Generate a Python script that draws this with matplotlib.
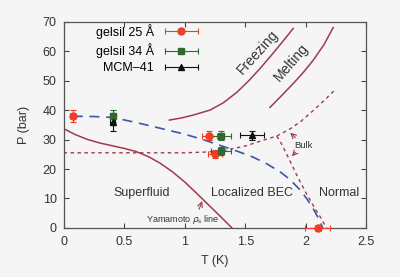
"""
Phase diagram of 4He in porous media: P vs T with gelsil / MCM-41 points.
"""

import matplotlib

matplotlib.use("Agg")
import matplotlib.pyplot as plt
from matplotlib.legend_handler import HandlerLine2D, HandlerTuple
from matplotlib.lines import Line2D

# data points (T in K, P in bar)
gel25_T = [0.076, 1.203, 1.25, 2.097]
gel25_P = [37.9, 31.3, 25.1, 0.0]
gel25_xerr = [0.02, 0.06, 0.06, 0.10]
gel25_yerr = [2.0, 1.5, 1.5, 1.0]

gel34_T = [0.406, 1.30, 1.30]
gel34_P = [37.9, 31.3, 26.1]
gel34_xerr = [0.02, 0.08, 0.08]
gel34_yerr = [2.0, 1.5, 1.5]

mcm_T = [0.406, 1.553]
mcm_P = [35.9, 31.5]
mcm_xerr = [0.02, 0.10]
mcm_yerr = [3.0, 1.5]

# guide line through the onset points (blue dashed)
onset_T = [0.076, 0.25, 0.406, 0.55, 0.70, 0.85, 1.0, 1.15, 1.30, 1.45, 1.566,
           1.68, 1.786, 1.87, 1.95, 2.01, 2.06, 2.10, 2.14]
onset_P = [37.9, 37.8, 37.5, 36.2, 34.8, 33.3, 31.8, 30.0, 27.9, 25.8, 24.0,
           21.7, 19.1, 16.4, 13.0, 9.8, 6.6, 3.6, 0.0]

# Yamamoto rho_s line
yama_T = [0.0, 0.1, 0.2, 0.3, 0.4, 0.5, 0.6, 0.7, 0.8, 0.9, 1.0, 1.1, 1.2, 1.3, 1.39]
yama_P = [33.7, 31.6, 30.0, 28.8, 27.9, 27.0, 25.9, 24.2, 21.9, 19.0, 15.6, 11.7, 7.7, 3.7, 0.0]

# freezing / melting in the pores
freeze_T = [0.873, 0.97, 1.07, 1.21, 1.32, 1.43, 1.53, 1.62, 1.72, 1.81, 1.896]
freeze_P = [36.6, 37.3, 38.3, 40.0, 42.5, 46.0, 50.0, 54.0, 58.8, 63.3, 67.7]
melt_T = [1.704, 1.80, 1.896, 1.98, 2.061, 2.15, 2.226]
melt_P = [40.9, 44.9, 49.0, 52.8, 56.9, 62.2, 68.0]

# bulk melting curve and bulk lambda line (dotted)
bulkmelt_T = [0.0, 1.0, 1.2, 1.35, 1.5, 1.62, 1.76, 1.87, 1.96, 2.06, 2.15, 2.24]
bulkmelt_P = [25.5, 25.5, 25.8, 26.5, 27.8, 29.4, 31.2, 33.6, 36.2, 39.8, 43.2, 46.8]
lambda_T = [1.76, 1.80, 1.86, 1.93, 2.0, 2.07, 2.13, 2.17]
lambda_P = [31.2, 28.5, 23.5, 17.5, 12.0, 7.0, 3.0, 0.0]

RED = "#f23d25"
GREEN = "#2c6a2e"
BLACK = "#111111"
MAROON = "#a13a4e"
BLUE = "#3a56ad"
BG = "#f5f5f5"
TXT = "#333333"


def main():
    plt.rcParams["font.family"] = ["Liberation Sans", "DejaVu Sans"]
    plt.rcParams["font.size"] = 9

    fig = plt.figure(figsize=(4.0, 2.77), dpi=100, facecolor=BG)
    ax = fig.add_axes([0.159, 0.177, 0.757, 0.745], facecolor=BG)

    ax.plot(yama_T, yama_P, color=MAROON, lw=1.1)
    ax.plot(freeze_T, freeze_P, color=MAROON, lw=1.1)
    ax.plot(melt_T, melt_P, color=MAROON, lw=1.1)
    ax.plot(bulkmelt_T, bulkmelt_P, color=MAROON, lw=1.0, dashes=(2.5, 2.5))
    ax.plot(lambda_T, lambda_P, color=MAROON, lw=1.0, dashes=(2.5, 2.5))
    ax.plot(onset_T, onset_P, color=BLUE, lw=1.2, dashes=(6, 4))

    eb = dict(ls="none", elinewidth=0.8, capsize=2, capthick=0.8, clip_on=False, zorder=5)
    ax.errorbar(gel25_T, gel25_P, xerr=gel25_xerr, yerr=gel25_yerr, color=RED,
                marker="o", ms=5, **eb)
    ax.errorbar(gel34_T, gel34_P, xerr=gel34_xerr, yerr=gel34_yerr, color=GREEN,
                marker="s", ms=4.5, **eb)
    ax.errorbar(mcm_T, mcm_P, xerr=mcm_xerr, yerr=mcm_yerr, color=BLACK,
                marker="^", ms=5, **eb)

    # legend, gnuplot style: label on the left, line with caps on the right
    handles = []
    hmap = {}
    for c, m, ms in [(RED, "o", 5), (GREEN, "s", 4.5), (BLACK, "^", 5)]:
        cap = Line2D([], [], color=c, lw=0.8, marker="|", ms=4, mew=0.8)
        mk = Line2D([], [], color=c, ls="none", marker=m, ms=ms)
        hmap[cap] = HandlerLine2D(numpoints=2)
        hmap[mk] = HandlerLine2D(numpoints=1)
        handles.append((cap, mk))
    hmap[tuple] = HandlerTuple(ndivide=1, pad=0)
    ax.legend(handles, ["gelsil 25 Å", "gelsil 34 Å", "MCM–41"],
              handler_map=hmap, markerfirst=False, frameon=False,
              loc="upper right", bbox_to_anchor=(0.455, 0.99),
              borderaxespad=0, borderpad=0, handlelength=3.2,
              handletextpad=0.6, labelspacing=0.35, fontsize=9)

    # region labels
    ax.text(0.645, 11.8, "Superfluid", ha="center", va="center", color=TXT)
    ax.text(1.553, 11.8, "Localized BEC", ha="center", va="center", color=TXT)
    ax.text(2.275, 11.8, "Normal", ha="center", va="center", color=TXT)
    ax.text(1.60, 59.6, "Freezing", ha="center", va="center", rotation=48,
            fontsize=10, color=TXT)
    ax.text(1.88, 56.0, "Melting", ha="center", va="center", rotation=49,
            fontsize=10, color=TXT)
    ax.text(0.985, 3.0, r"Yamamoto $\rho_\mathregular{s}$ line", ha="center", va="center",
            fontsize=6.5, color=TXT)
    ax.annotate("", xy=(1.153, 10.0), xytext=(1.11, 5.5),
                arrowprops=dict(arrowstyle="->", color=MAROON, lw=0.8))
    ax.text(1.98, 28.1, "Bulk", ha="center", va="center", fontsize=6.8, color=TXT)
    ax.annotate("", xy=(1.855, 33.0), xytext=(1.93, 30.0),
                arrowprops=dict(arrowstyle="->", color=MAROON, lw=0.8))
    ax.annotate("", xy=(1.87, 23.6), xytext=(1.93, 26.4),
                arrowprops=dict(arrowstyle="->", color=MAROON, lw=0.8))

    ax.set_xlim(0, 2.5)
    ax.set_ylim(0, 70)
    ax.set_xticks([0, 0.5, 1, 1.5, 2, 2.5])
    ax.set_xticklabels(["0", "0.5", "1", "1.5", "2", "2.5"])
    ax.set_yticks(range(0, 71, 10))
    ax.tick_params(direction="in", top=True, right=True, length=3.5, width=0.8,
                   colors="#444444", labelcolor=TXT, labelsize=9)
    ax.tick_params(axis="x", pad=6)
    ax.tick_params(axis="y", pad=5)
    for s in ax.spines.values():
        s.set_color("#555555")
        s.set_linewidth(0.9)

    ax.set_xlabel("T (K)", fontsize=9, color=TXT, labelpad=5)
    ax.set_ylabel("P (bar)", fontsize=9, color=TXT, labelpad=9)

    fig.savefig("out.png", dpi=100, facecolor=BG)
    plt.close(fig)


if __name__ == "__main__":
    main()
